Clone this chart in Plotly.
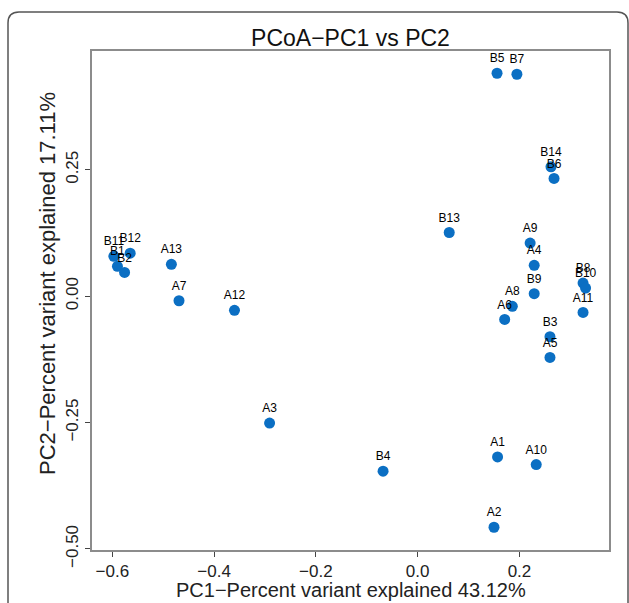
import plotly.graph_objects as go

samples = ["B5", "B7", "B14", "B6", "B13", "A9", "A4", "B8", "B10", "B9", "A8", "A6",
           "A11", "B3", "A5", "B12", "B11", "B1", "B2", "A13", "A7", "A12", "A3", "B4",
           "A1", "A10", "A2"]
pc1 = [0.156, 0.195, 0.262, 0.268, 0.062, 0.221, 0.229, 0.325, 0.330, 0.229, 0.186, 0.171,
       0.325, 0.260, 0.260, -0.565, -0.597, -0.590, -0.576, -0.484, -0.469, -0.360, -0.291,
       -0.068, 0.157, 0.233, 0.150]
pc2 = [0.441, 0.439, 0.256, 0.233, 0.126, 0.105, 0.061, 0.026, 0.016, 0.005, -0.020, -0.046,
       -0.032, -0.080, -0.121, 0.085, 0.079, 0.059, 0.047, 0.063, -0.009, -0.028, -0.251,
       -0.346, -0.318, -0.333, -0.457]

x_ticks = [-0.6, -0.4, -0.2, 0.0, 0.2]
x_tick_text = ["\u22120.6", "\u22120.4", "\u22120.2", "0.0", "0.2"]
y_ticks = [-0.50, -0.25, 0.00, 0.25]
y_tick_text = ["\u22120.50", "\u22120.25", "0.00", "0.25"]

x_title = "PC1\u2212Percent variant explained 43.12%"
y_title = "PC2\u2212Percent variant explained 17.11%"
main_title = "PCoA\u2212PC1 vs PC2"

W, H = 629, 603
L, R, T, B = 92, 609, 51, 550

font = "Liberation Sans, Arial, sans-serif"

fig = go.Figure()
fig.add_trace(go.Scatter(
    x=pc1, y=pc2, mode="markers+text", text=samples, textposition="top center",
    textfont=dict(family=font, size=12, color="black"),
    marker=dict(size=11, color="#0b6fc3"),
    cliponaxis=False, hoverinfo="text",
))

axis_common = dict(showline=True, mirror=True, linecolor="#8c8c8c", linewidth=1.5,
                   ticks="outside", ticklen=5, tickcolor="#444", tickwidth=1,
                   showgrid=False, zeroline=False, automargin=False,
                   tickfont=dict(family=font, size=17, color="#222"))

fig.update_xaxes(range=[-0.640, 0.376], tickvals=x_ticks, ticktext=x_tick_text,
                 **axis_common)
fig.update_yaxes(range=[-0.502, 0.485], tickvals=y_ticks, ticktext=y_tick_text,
                 tickangle=-90, **axis_common)

pw, ph = R - L, B - T
def px(xp): return (xp - L) / pw
def py(yp): return (B - yp) / ph

# axis titles
fig.add_annotation(text=x_title, xref="paper", yref="paper", x=0.5, y=py(590),
                   xanchor="center", yanchor="middle", showarrow=False,
                   font=dict(family=font, size=20, color="#222"))
fig.add_annotation(text=y_title, xref="paper", yref="paper", x=px(47), y=py(284),
                   xanchor="center", yanchor="middle", showarrow=False, textangle=-90,
                   font=dict(family=font, size=22, color="#222"))

# outer rounded frame
x0, x1, yt, yb = px(8), px(628), py(12), py(640)
rx, ry = 11 / pw, 11 / ph
path = (f"M {x0},{yb} L {x0},{yt-ry} Q {x0},{yt} {x0+rx},{yt} "
        f"L {x1-rx},{yt} Q {x1},{yt} {x1},{yt-ry} L {x1},{yb}")
fig.add_shape(type="path", path=path, xref="paper", yref="paper",
              line=dict(color="#555", width=1.5), layer="below")

fig.update_layout(
    width=W, height=H,
    margin=dict(l=L, r=W - R, t=T, b=H - B, autoexpand=False),
    paper_bgcolor="white", plot_bgcolor="white",
    showlegend=False,
    title=dict(text=main_title, x=(L + R) / 2 / W, xanchor="center",
               y=1 - 38 / H, yanchor="middle",
               font=dict(family=font, size=23, color="#111")),
)

fig.write_html("out.html")
